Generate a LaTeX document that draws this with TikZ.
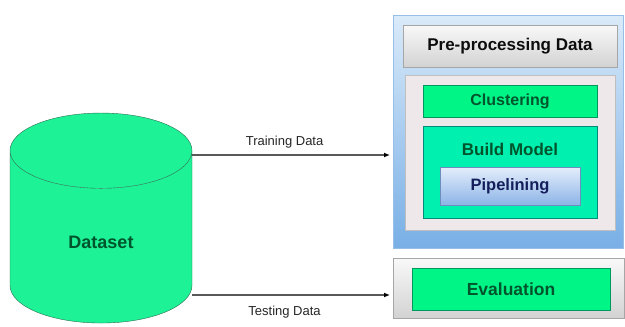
\documentclass[tikz,border=0pt]{standalone}
\usepackage{fontspec}
\setmainfont{Liberation Sans}
\usetikzlibrary{shapes.geometric, positioning, arrows.meta}

\definecolor{mint}{RGB}{30,242,150}
\definecolor{mintline}{RGB}{40,110,80}
\definecolor{darkgreen}{RGB}{0,85,45}
\definecolor{spring}{RGB}{0,245,135}
\definecolor{springline}{RGB}{0,150,95}
\definecolor{aqua}{RGB}{0,240,175}
\definecolor{aqualine}{RGB}{0,140,120}
\definecolor{navy}{RGB}{20,30,90}

\begin{document}
\begin{tikzpicture}[x=1pt, y=-1pt,
    greybox/.style={draw=gray!70, top color=gray!5, bottom color=gray!35},
    greenbox/.style={draw=springline, fill=spring, font=\bfseries\fontsize{16}{18}\selectfont, text=darkgreen},
    flow/.style={draw=gray!70!black, line width=1.4pt, -{Latex[length=6pt, width=5pt, black]}, shorten >=3pt},
    lbl/.style={font=\fontsize{13}{15}\selectfont, text=gray!30!black}]
    \useasboundingbox (0,0) rectangle (625,327);

    % Dataset cylinder
    \node[cylinder, shape border rotate=90, aspect=1.05, draw=mintline,
          cylinder uses custom fill, cylinder body fill=mint, cylinder end fill=mint,
          minimum width=182pt, minimum height=210pt,
          font=\bfseries\fontsize{18}{20}\selectfont, text=darkgreen] (data) at (101,242) {Dataset};

    % Training stage
    \node[draw={rgb,255:red,150;green,190;blue,230},
          top color={rgb,255:red,218;green,234;blue,249},
          bottom color={rgb,255:red,120;green,175;blue,230},
          minimum width=230pt, minimum height=233pt, anchor=north west] (stage) at (393,15) {};
    \node[greybox, minimum width=214pt, minimum height=42pt,
          font=\bfseries\fontsize{17}{19}\selectfont, text=gray!10!black] (prep) at (510,46) {Pre-processing Data};
    \node[draw=gray!50, fill={rgb,255:red,238;green,232;blue,234},
          minimum width=210pt, minimum height=155pt] (panel) at (510,152.5) {};
    \node[greenbox, minimum width=174pt, minimum height=32pt] (clust) at (510,101) {Clustering};
    \node[draw=aqualine, fill=aqua, minimum width=174pt, minimum height=92pt,
          label={[anchor=north, yshift=-14pt, font=\bfseries\fontsize{17}{19}\selectfont, text=darkgreen]north:Build Model}] (build) at (510,172) {};
    \node[draw={rgb,255:red,110;green,140;blue,190},
          top color={rgb,255:red,228;green,238;blue,252},
          bottom color={rgb,255:red,140;green,180;blue,230},
          minimum width=140pt, minimum height=38pt,
          font=\bfseries\fontsize{16.5}{19}\selectfont, text=navy] (pipe) at (510,186) {Pipelining};

    % Evaluation stage
    \node[greybox, minimum width=231pt, minimum height=60pt, anchor=north west] (evalbox) at (393,258) {};
    \node[greenbox, minimum width=198pt, minimum height=42pt,
          font=\bfseries\fontsize{17.5}{20}\selectfont] (eval) at (511,289) {Evaluation};

    % Data splits
    \draw[flow] ([yshift=87pt]data.east) coordinate (trainout) -- (trainout -| stage.west)
        node[pos=0.46, above=3pt, lbl] {Training Data};
    \draw[flow] ([yshift=-53pt]data.east) coordinate (testout) -- (testout -| evalbox.west)
        node[pos=0.46, below=7pt, lbl] {Testing Data};
\end{tikzpicture}
\end{document}
